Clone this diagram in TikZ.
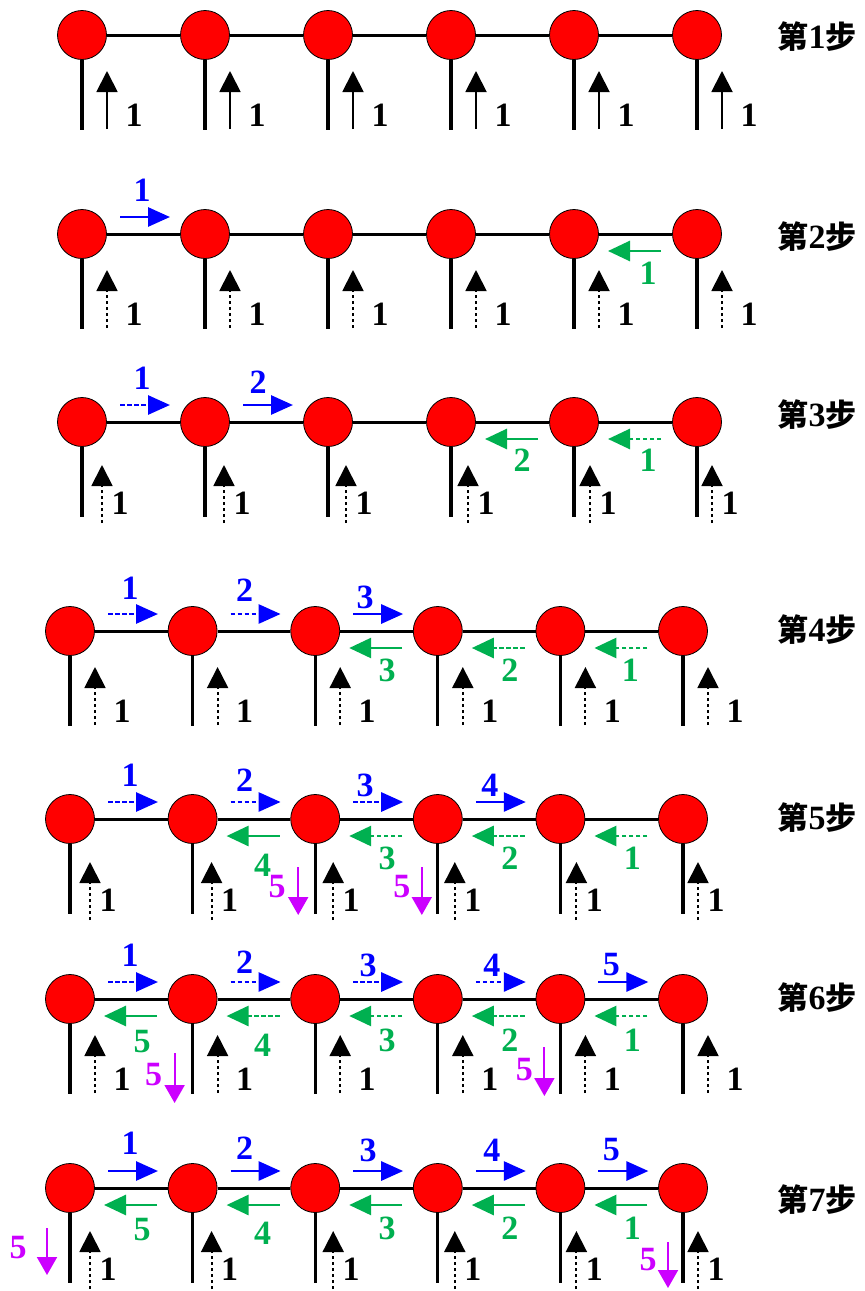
\documentclass[tikz,border=0pt]{standalone}
\usepackage{fontspec}
\setmainfont{Liberation Serif}
\newfontfamily\cjk{Noto Sans CJK SC}
\usetikzlibrary{arrows.meta,calc}
\definecolor{myblue}{RGB}{0,0,255}
\definecolor{mygreen}{RGB}{0,176,80}
\definecolor{mymag}{RGB}{204,0,255}
\definecolor{myred}{RGB}{255,0,0}
\tikzset{
  ball/.style={circle, draw=black, line width=0.8pt, fill=myred, minimum size=49pt, inner sep=0pt},
  link/.style={line width=3pt},
  stem/.style={line width=3.2pt},
  uparr/.style={line width=1.9pt, -{Triangle[length=21pt,width=21pt]}},
  bdash/.style={dash pattern=on 3.5pt off 2.5pt},
  cdash/.style={dash pattern=on 4.5pt off 2.5pt},
  bluearr/.style={myblue, line width=2.8pt, -{Triangle[length=22pt,width=19pt]}},
  greenarr/.style={mygreen, line width=2.8pt, -{Triangle[length=22pt,width=20pt]}},
  magarr/.style={mymag, line width=2pt, -{Triangle[length=18pt,width=20pt]}},
  lab/.style={font=\bfseries\fontsize{34}{34}\selectfont, inner sep=0pt},
  steplab/.style={font=\bfseries\fontsize{34}{34}\selectfont, inner sep=0pt},
}
\newcommand\cj[1]{{\cjk\fontsize{31}{31}\selectfont #1}}
% up arrow, type A (#1 node, #2 style)
\newcommand\upA[2]{%
  \draw[uparr,#2] ($(#1)+(25,94)$) -- ($(#1)+(25,36)$);
  \node[lab] (#1u) at ($(#1)+(52,80)$) {1};}
% up arrow, type B (#1 node, #2 x offset)
\newcommand\upB[2]{%
  \draw[uparr,bdash] ($(#1)+(#2,101)$) -- ($(#1)+(#2,43)$);
  \node[lab] (#1u) at ($(#1)+(#2+18,81)$) {1};}
% blue arrow (#1 left node, #2 style, #3 label, #4 lx, #5 ly)
\newcommand\bluearrow[5]{%
  \draw[bluearr,#2] ($(#1)+(38,-17)$) -- ($(#1)+(88,-17)$);
  \node[lab,text=myblue] (#1b) at ($(#1)+(#4,#5)$) {#3};}
% green arrow (#1 left node, #2 style, #3 label, #4 lx, #5 ly)
\newcommand\greenarrow[5]{%
  \draw[greenarr,#2] ($(#1)+(87,17)$) -- ($(#1)+(34,17)$);
  \node[lab,text=mygreen] (#1g) at ($(#1)+(#4,#5)$) {#3};}
% magenta arrow (#1 node, #2 ax, #3 ytop, #4 ybot, #5 lx, #6 ly)
\newcommand\magarrow[6]{%
  \draw[magarr] ($(#1)+(#2,#3)$) -- ($(#1)+(#2,#4)$);
  \node[lab,text=mymag] (#1m) at ($(#1)+(#5,#6)$) {5};}
\begin{document}
\begin{tikzpicture}[x=1pt,y=-1pt]
\useasboundingbox (0,0) rectangle (865,1291);
% rows
\foreach \r/\cy/\xo/\dx in {1/35/82/123, 2/234/82/123, 3/422/82/123, 4/631/70/122.6, 5/819/70/122.6, 6/999/70/122.6, 7/1188/70/122.6}{
  \foreach \i in {1,...,6}{
    \node[ball] (r\r n\i) at ({\xo+\dx*(\i-1)},\cy) {};
    \draw[stem] (r\r n\i.south) -- ++(0,70);
  }
  \foreach \i [evaluate=\i as \j using int(\i+1)] in {1,...,5}{
    \draw[link] (r\r n\i) -- (r\r n\j);
  }
}
% step labels
\node[steplab] (s1) at (817,37) {\cj{第}1\cj{步}};
\node[steplab] (s2) at (817,237) {\cj{第}2\cj{步}};
\node[steplab] (s3) at (817,415) {\cj{第}3\cj{步}};
\node[steplab] (s4) at (817,630) {\cj{第}4\cj{步}};
\node[steplab] (s5) at (817,818) {\cj{第}5\cj{步}};
\node[steplab] (s6) at (817,998) {\cj{第}6\cj{步}};
\node[steplab] (s7) at (817,1200) {\cj{第}7\cj{步}};
% up arrows
\foreach \i in {1,...,6}{ \upA{r1n\i}{solid} }
\foreach \i in {1,...,6}{ \upA{r2n\i}{bdash} }
\foreach \i in {1,...,6}{ \upB{r3n\i}{21-\i} }
\foreach \i in {1,...,6}{ \upA{r4n\i}{bdash} }
\foreach \i in {1,...,6}{ \upB{r5n\i}{21-\i} }
\foreach \i in {1,...,6}{ \upA{r6n\i}{bdash} }
\foreach \i in {1,...,6}{ \upB{r7n\i}{21-\i} }
% row 2
\bluearrow{r2n1}{solid}{1}{60}{-44}
\greenarrow{r2n5}{solid}{1}{74}{39}
% row 3
\bluearrow{r3n1}{cdash}{1}{60}{-44}
\bluearrow{r3n2}{solid}{2}{53}{-40}
\greenarrow{r3n4}{solid}{2}{71}{38}
\greenarrow{r3n5}{cdash}{1}{74}{38}
% row 4
\bluearrow{r4n1}{cdash}{1}{60}{-43}
\bluearrow{r4n2}{cdash}{2}{52}{-41}
\bluearrow{r4n3}{solid}{3}{50}{-34}
\greenarrow{r4n3}{solid}{3}{72}{39}
\greenarrow{r4n4}{cdash}{2}{72}{39}
\greenarrow{r4n5}{cdash}{1}{70}{39}
% row 5
\bluearrow{r5n1}{cdash}{1}{60}{-44}
\bluearrow{r5n2}{cdash}{2}{52}{-39}
\bluearrow{r5n3}{cdash}{3}{50}{-34}
\bluearrow{r5n4}{solid}{4}{52}{-34}
\greenarrow{r5n2}{solid}{4}{70}{46}
\greenarrow{r5n3}{cdash}{3}{72}{39}
\greenarrow{r5n4}{cdash}{2}{72}{39}
\greenarrow{r5n5}{cdash}{1}{72}{39}
\magarrow{r5n3}{-17}{48}{96}{-38}{68}
\magarrow{r5n4}{-16}{48}{96}{-36}{68}
% row 6
\bluearrow{r6n1}{cdash}{1}{60}{-44}
\bluearrow{r6n2}{cdash}{2}{52}{-37}
\bluearrow{r6n3}{cdash}{3}{53}{-34}
\bluearrow{r6n4}{cdash}{4}{54}{-34}
\bluearrow{r6n5}{solid}{5}{51}{-34}
\greenarrow{r6n1}{solid}{5}{72}{43}
\greenarrow{r6n2}{cdash}{4}{70}{46}
\greenarrow{r6n3}{cdash}{3}{72}{41}
\greenarrow{r6n4}{cdash}{2}{72}{41}
\greenarrow{r6n5}{cdash}{1}{72}{41}
\magarrow{r6n2}{-18}{54}{104}{-39}{76}
\magarrow{r6n5}{-16}{48}{97}{-36}{71}
% row 7
\bluearrow{r7n1}{solid}{1}{60}{-45}
\bluearrow{r7n2}{solid}{2}{52}{-40}
\bluearrow{r7n3}{solid}{3}{53}{-38}
\bluearrow{r7n4}{solid}{4}{54}{-38}
\bluearrow{r7n5}{solid}{5}{51}{-38}
\greenarrow{r7n1}{solid}{5}{72}{42}
\greenarrow{r7n2}{solid}{4}{70}{45}
\greenarrow{r7n3}{solid}{3}{72}{40}
\greenarrow{r7n4}{solid}{2}{72}{40}
\greenarrow{r7n5}{solid}{1}{72}{40}
\magarrow{r7n1}{-23}{40}{87}{-52}{60}
\magarrow{r7n6}{-15}{54}{100}{-35}{72}
\end{tikzpicture}
\end{document}
